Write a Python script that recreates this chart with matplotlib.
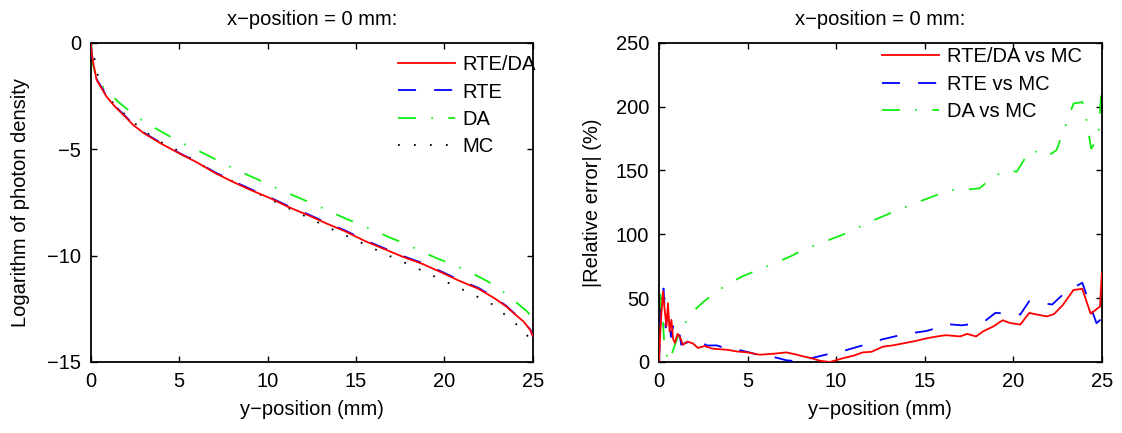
import matplotlib
matplotlib.use('Agg')
import matplotlib.pyplot as plt

plt.rcParams['font.family'] = ['Liberation Sans', 'DejaVu Sans']
plt.rcParams['font.size'] = 14.5
plt.rcParams['axes.linewidth'] = 1.3
plt.rcParams['xtick.direction'] = 'in'
plt.rcParams['ytick.direction'] = 'in'
plt.rcParams['xtick.top'] = True
plt.rcParams['ytick.right'] = True
plt.rcParams['xtick.major.size'] = 4
plt.rcParams['ytick.major.size'] = 4
plt.rcParams['xtick.major.width'] = 1.0
plt.rcParams['ytick.major.width'] = 1.0
plt.rcParams['lines.scale_dashes'] = False

# left panel: log photon density along y
x_rte_da = [0, 0.08, 0.15, 0.34, 0.62, 0.9, 1.37, 2.04, 2.41, 3.0, 4.0, 5.05, 6.0, 7.03, 8.07,
            9.1, 10.14, 11.18, 12.31, 13.35, 14.38, 15.51, 16.55, 17.68, 18.72, 19.85, 20.79,
            21.92, 22.87, 23.5, 23.9, 24.47, 24.85, 25]
y_rte_da = [0, -0.6, -0.97, -1.75, -2.14, -2.54, -3.0, -3.55, -3.87, -4.25, -4.75, -5.22, -5.62,
            -6.12, -6.55, -6.94, -7.3, -7.72, -8.11, -8.5, -8.86, -9.32, -9.68, -10.07, -10.38,
            -10.8, -11.17, -11.56, -12.03, -12.4, -12.7, -13.1, -13.5, -13.8]

x_rte = [0, 0.08, 0.15, 0.34, 0.62, 0.9, 1.37, 2.04, 2.41, 3.0, 4.0, 5.05, 6.0, 7.03, 8.07,
         9.1, 10.14, 11.18, 12.31, 13.35, 14.38, 15.51, 16.55, 17.68, 18.72, 19.85, 20.79,
         21.92, 22.87, 23.5, 23.9, 24.47, 24.85, 25]
y_rte = [0, -0.62, -1.0, -1.72, -2.1, -2.52, -2.97, -3.52, -3.85, -4.22, -4.72, -5.2, -5.6,
         -6.09, -6.51, -6.9, -7.27, -7.68, -8.07, -8.46, -8.82, -9.28, -9.64, -10.03, -10.34,
         -10.76, -11.13, -11.52, -11.99, -12.37, -12.68, -13.08, -13.48, -13.78]

x_da = [0, 0.24, 0.5, 0.87, 1.66, 2.32, 2.88, 3.83, 5.11, 5.8, 6.75, 7.5, 8.26, 9.29, 10.05,
        10.8, 11.84, 12.59, 13.38, 14.42, 15.19, 15.95, 17.02, 17.78, 18.53, 19.57, 20.32,
        21.08, 22.12, 22.87, 23.53, 24.28, 24.7, 25]
y_da = [-0.6, -1.39, -1.85, -2.25, -2.85, -3.29, -3.63, -4.1, -4.7, -4.96, -5.35, -5.67, -5.98,
        -6.37, -6.65, -6.95, -7.31, -7.58, -7.87, -8.27, -8.52, -8.8, -9.19, -9.44, -9.74,
        -10.13, -10.36, -10.64, -11.07, -11.41, -11.85, -12.35, -12.65, -13.0]

x_mc = [0, 0.2, 0.36, 0.53, 1.0, 1.47, 2.13, 2.7, 3.35, 4.1, 4.86, 5.8, 7.0, 8.5, 10.42, 12.0,
        13.54, 15.1, 16.65, 18.25, 19.76, 21.27, 22.77, 23.43, 24.0, 24.62, 25]
y_mc = [0, -0.69, -1.36, -1.99, -2.54, -3.04, -3.5, -3.94, -4.34, -4.73, -5.04, -5.5, -6.1,
        -6.7, -7.47, -8.1, -8.72, -9.32, -9.93, -10.52, -11.11, -11.69, -12.32, -12.79, -13.18,
        -13.7, -14.1]

# right panel: relative error vs MC
x_err_rtda = [0, 0.1, 0.19, 0.23, 0.3, 0.42, 0.51, 0.6, 0.7, 0.8, 0.9, 1.05, 1.17, 1.36, 1.6,
              1.92, 2.2, 2.58, 3.0, 3.43, 3.9, 4.37, 5.0, 5.69, 6.5, 7.2, 7.7, 8.14, 8.6, 9.08,
              9.65, 10.4, 11.0, 11.5, 12.0, 12.65, 13.2, 13.8, 14.5, 15.1, 15.7, 16.2, 17.0,
              17.4, 17.9, 18.3, 18.9, 19.4, 19.8, 20.4, 20.9, 21.4, 21.9, 22.3, 22.8, 23.4,
              23.9, 24.37, 24.9, 25]
y_err_rtda = [0, 30, 48, 55, 44, 28, 46, 24, 33, 18, 15, 22, 20, 13.5, 16, 14.5, 11, 12.5, 10.5,
              10, 9.5, 8.3, 7.5, 5.7, 6.5, 7.5, 6, 4.4, 3, 1, 0, 3, 5, 7.5, 8, 12, 13, 14.6, 16.5,
              18.5, 20, 21, 20, 22, 20, 24, 28, 32.7, 30.6, 29.3, 38.4, 37, 35.7, 37.5, 44.6,
              56.4, 57.3, 37.8, 43.5, 69.6]

x_err_rte = [0, 0.1, 0.18, 0.26, 0.38, 0.5, 0.6, 0.68, 0.8, 0.95, 1.17, 1.26, 1.5, 1.92, 2.3, 2.7,
             3.25, 3.6, 4.0, 4.5, 5.1, 6.0, 6.6, 7.2, 7.9, 8.6, 9.5, 10.4, 11.7, 12.6, 13.8,
             15.1, 16.4, 17.1, 18.3, 19.0, 20.4, 20.9, 22.2, 23.0, 23.9, 24.3, 24.7, 25]
y_err_rte = [0, 35, 52, 57.5, 27, 38, 30, 19.6, 28, 17, 21, 13.5, 15, 15, 16.5, 12.9, 13, 11.5,
             10, 9.5, 7.5, 4, 3.5, 1.3, 0.5, 3, 6, 8.6, 13.8, 17.7, 21.6, 24.3, 29.5, 28.7, 31,
             38.5, 37.2, 47.6, 45, 55.4, 62, 46, 30.4, 34]

x_err_da = [0, 0.09, 0.19, 0.32, 0.6, 0.8, 1.07, 1.36, 1.92, 2.5, 3.24, 3.99, 4.7, 6.07, 7.4,
            8.33, 9.3, 10.59, 11.7, 13.04, 14.4, 15.67, 16.4, 17.4, 18.1, 18.86, 19.6, 20.2,
            20.66, 21.1, 21.9, 22.45, 22.9, 23.4, 23.9, 24.1, 24.4, 24.8, 25]
y_err_da = [0, 55, 40, 9, 0, 9.5, 20, 27.8, 39.5, 47, 55, 61.7, 67, 74.7, 82.5, 89, 94, 100.8,
            108.5, 116.4, 124, 130.7, 134.6, 135, 136, 145, 150, 149, 159.4, 166, 160.6, 166,
            183, 202.3, 203.6, 192, 167, 176, 218]

fig = plt.figure(figsize=(11.22, 4.33), dpi=100)
ax1 = fig.add_axes([0.0808, 0.164, 0.3942, 0.7374])
ax2 = fig.add_axes([0.5873, 0.164, 0.3947, 0.7374])

lw = 1.3
green = '#11ee11'
ax1.plot(x_rte_da, y_rte_da, color='red', lw=lw, label='RTE/DA', zorder=4)
ax1.plot(x_rte, y_rte, color='blue', lw=lw, dashes=(13, 13), label='RTE', zorder=3)
ax1.plot(x_da, y_da, color=green, lw=lw, dashes=(13, 11, 1.2, 11), label='DA', zorder=2)
ax1.plot(x_mc, y_mc, color='black', lw=lw, dashes=(1.3, 10.2), label='MC', zorder=1)
ax1.set_xlim(0, 25)
ax1.set_ylim(-15, 0)
ax1.set_xticks([0, 5, 10, 15, 20, 25])
ax1.set_yticks([-15, -10, -5, 0])
ax1.set_xlabel('y\u2212position (mm)', labelpad=7)
ax1.set_ylabel('Logarithm of photon density', labelpad=12)
ax1.set_title('x\u2212position = 0 mm:', fontsize=14.5, pad=13)
ax1.legend(loc='upper right', bbox_to_anchor=(1.007, 0.96), frameon=False, borderpad=0,
           borderaxespad=0, handlelength=2.8, handletextpad=0.4, labelspacing=0.4)

ax2.plot(x_err_rtda, y_err_rtda, color='red', lw=lw, label='RTE/DA vs MC', zorder=4)
ax2.plot(x_err_rte, y_err_rte, color='blue', lw=lw, dashes=(13, 13), label='RTE vs MC', zorder=3)
ax2.plot(x_err_da, y_err_da, color=green, lw=lw, dashes=(13, 11, 1.2, 11),
         label='DA vs MC', zorder=2)
ax2.set_xlim(0, 25)
ax2.set_ylim(0, 250)
ax2.set_xticks([0, 5, 10, 15, 20, 25])
ax2.set_yticks([0, 50, 100, 150, 200, 250])
ax2.set_xlabel('y\u2212position (mm)', labelpad=7)
ax2.set_ylabel('|Relative error| (%)', labelpad=10)
ax2.set_title('x\u2212position = 0 mm:', fontsize=14.5, pad=13)
ax2.legend(loc='upper right', bbox_to_anchor=(0.955, 0.985), frameon=False, borderpad=0,
           borderaxespad=0, handlelength=2.8, handletextpad=0.4, labelspacing=0.42)

for ax in (ax1, ax2):
    ax.tick_params(pad=7)

fig.savefig('out.png', dpi=100)
